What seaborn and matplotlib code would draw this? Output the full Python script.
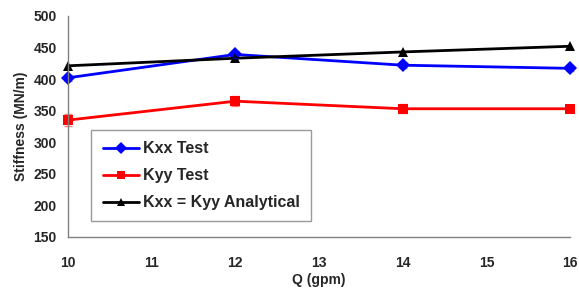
import pandas as pd
import numpy as np
import matplotlib.pyplot as plt
import seaborn as sns

# data
q_gpm = [10, 12, 14, 16]
kxx_test = [402, 439, 422, 417]
kyy_test = [335, 365, 353, 353]
k_analytical = [421, 433, 443, 452]
kxx_err = [5, 5, 4, 4]
kyy_err = [9, 8, 7, 5]

sns.set_style('white')
plt.rcParams['font.family'] = ['Liberation Sans', 'DejaVu Sans']
plt.rcParams['font.weight'] = 'bold'

df = pd.DataFrame({
    'Q': q_gpm * 3,
    'K': kxx_test + kyy_test + k_analytical,
    'series': ['Kxx Test'] * 4 + ['Kyy Test'] * 4 + ['Kxx = Kyy Analytical'] * 4,
})

fig = plt.figure(figsize=(5.79, 2.9), dpi=100)
ax = fig.add_axes([0.117, 0.183, 0.868, 0.762])

palette = {'Kxx Test': '#0000ff', 'Kyy Test': '#ff0000', 'Kxx = Kyy Analytical': '#000000'}
markers = {'Kxx Test': 'D', 'Kyy Test': 's', 'Kxx = Kyy Analytical': '^'}
sns.lineplot(data=df, x='Q', y='K', hue='series', style='series', palette=palette,
             markers=markers, dashes=False, markersize=7, linewidth=2,
             markeredgewidth=0, ax=ax, clip_on=False)

ax.errorbar(q_gpm, kxx_test, yerr=kxx_err, fmt='none', ecolor='#0000ff', elinewidth=1, capsize=3, alpha=0.5, clip_on=False)
ax.errorbar(q_gpm, kyy_test, yerr=kyy_err, fmt='none', ecolor='#ff0000', elinewidth=1, capsize=3, alpha=0.5, clip_on=False)

ax.set_xlim(10, 16)
ax.set_ylim(150, 500)
ax.set_xticks(range(10, 17))
ax.set_yticks(range(150, 501, 50))
ax.tick_params(axis='both', direction='out', length=4, width=1, color='#808080',
               labelsize=10, pad=4)
for lbl in ax.get_xticklabels() + ax.get_yticklabels():
    lbl.set_fontweight('bold')
ax.tick_params(axis='x', pad=10)

for side in ['top', 'right']:
    ax.spines[side].set_visible(False)
for side in ['left', 'bottom']:
    ax.spines[side].set_color('#808080')
    ax.spines[side].set_linewidth(1)

ax.set_xlabel('Q (gpm)', fontsize=10, fontweight='bold', labelpad=2)
ax.set_ylabel('Stiffness (MN/m)', fontsize=10, fontweight='bold', labelpad=4)

leg = ax.legend(loc='lower left', bbox_to_anchor=(0.047, 0.07), frameon=True, fancybox=False,
                prop={'weight': 'bold', 'size': 11.5}, handlelength=2.3, labelspacing=0.75,
                borderpad=0.7, handletextpad=0.25, borderaxespad=0, markerscale=0.85)
leg.get_frame().set_edgecolor('#808080')
leg.get_frame().set_linewidth(1)

plt.savefig('out.png', dpi=100)
